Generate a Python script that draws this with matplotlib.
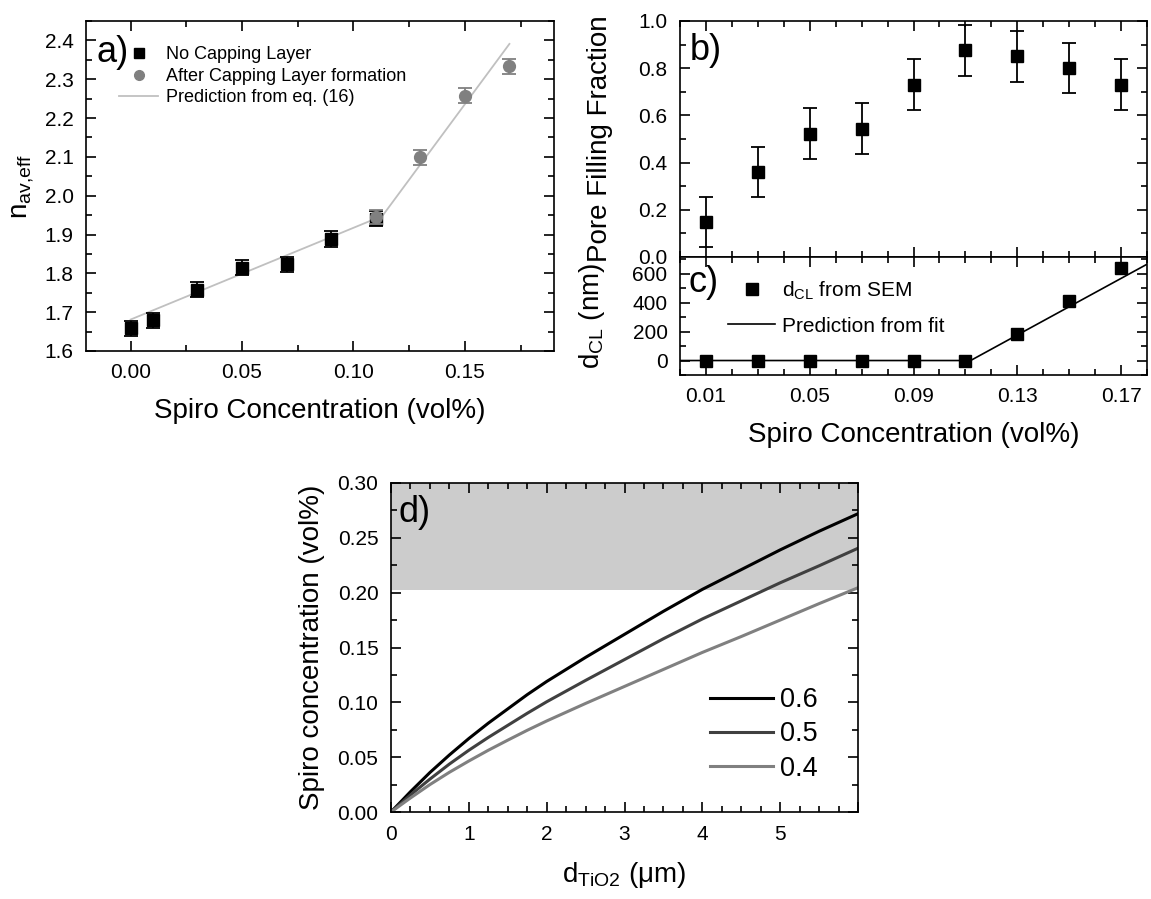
import numpy as np
import matplotlib.pyplot as plt
from matplotlib.lines import Line2D
from matplotlib.ticker import MultipleLocator

plt.rcParams['font.family'] = ['Liberation Sans', 'DejaVu Sans']
plt.rcParams['mathtext.default'] = 'regular'
plt.rcParams['axes.linewidth'] = 1.2

# panel a: effective refractive index
conc_nocap = [0.00, 0.01, 0.03, 0.05, 0.07, 0.09, 0.11]
n_nocap = [1.658, 1.679, 1.758, 1.815, 1.823, 1.889, 1.941]
n_nocap_err = [0.02, 0.02, 0.02, 0.02, 0.02, 0.02, 0.02]
conc_cap = [0.11, 0.13, 0.15, 0.17]
n_cap = [1.945, 2.099, 2.258, 2.333]
n_cap_err = [0.018, 0.02, 0.02, 0.02]
pred_conc = [0.0, 0.113, 0.17]
pred_n = [1.681, 1.948, 2.391]

# panel b / c: pore filling and capping layer thickness
conc_bc = [0.01, 0.03, 0.05, 0.07, 0.09, 0.11, 0.13, 0.15, 0.17]
pore_fill = [0.148, 0.36, 0.523, 0.544, 0.73, 0.876, 0.85, 0.80, 0.73]
pore_err = [0.107, 0.107, 0.107, 0.107, 0.107, 0.108, 0.108, 0.107, 0.107]
d_cl = [0, 0, 0, 0, 0, 0, 180, 410, 640]
fit_conc = [0.0, 0.112, 0.18]
fit_dcl = [0, 0, 665]

# panel d: required spiro concentration vs TiO2 thickness
d_tio2 = [0, 0.25, 0.5, 0.75, 1, 1.25, 1.5, 1.75, 2, 2.5, 3, 3.5, 4, 4.5, 5, 5.5, 6]
spiro_06 = [0, 0.0185, 0.036, 0.052, 0.067, 0.081, 0.094, 0.107, 0.119,
            0.141, 0.162, 0.183, 0.203, 0.221, 0.239, 0.256, 0.272]
spiro_05 = [0, 0.0155, 0.030, 0.0437, 0.0563, 0.068, 0.079, 0.090, 0.1005,
            0.120, 0.139, 0.158, 0.176, 0.1925, 0.209, 0.2245, 0.2405]
spiro_04 = [0, 0.0128, 0.025, 0.0362, 0.0465, 0.0563, 0.0655, 0.0745, 0.083,
            0.099, 0.1145, 0.130, 0.1455, 0.160, 0.175, 0.190, 0.2045]
band = [0.202, 0.30]

W, H = 1151, 899


def px_axes(fig, left, right, top, bottom):
    return fig.add_axes([left / W, 1 - bottom / H, (right - left) / W, (bottom - top) / H])


def style(ax, xmaj, xmin, ymaj, ymin):
    ax.xaxis.set_major_locator(MultipleLocator(xmaj))
    ax.xaxis.set_minor_locator(MultipleLocator(xmin))
    ax.yaxis.set_major_locator(MultipleLocator(ymaj))
    ax.yaxis.set_minor_locator(MultipleLocator(ymin))
    ax.tick_params(which='both', direction='in', top=True, right=True, width=1.2, labelsize=15)
    ax.tick_params(which='major', length=7.5, pad=9)
    ax.tick_params(which='minor', length=4)


fig = plt.figure(figsize=(W / 100, H / 100), dpi=100)

# ---- a)
ax_a = px_axes(fig, 86, 554, 21, 351)
ax_a.plot(pred_conc, pred_n, color='#c0c0c0', lw=1.3, zorder=1)
ax_a.errorbar(conc_nocap, n_nocap, yerr=n_nocap_err, fmt='s', color='k', ms=8,
              capsize=5, elinewidth=1.3, capthick=1.3, zorder=2)
ax_a.errorbar(conc_cap, n_cap, yerr=n_cap_err, fmt='o', color='#808080', ms=8.5,
              capsize=5, elinewidth=1.3, capthick=1.3, zorder=3)
ax_a.set_xlim(-0.02, 0.19)
ax_a.set_ylim(1.6, 2.45)
style(ax_a, 0.05, 0.025, 0.1, 0.05)
ax_a.xaxis.set_major_formatter(lambda v, p: f'{v:.2f}')
ax_a.yaxis.set_major_formatter(lambda v, p: f'{v:.1f}')
ax_a.set_xlabel('Spiro Concentration (vol%)', fontsize=20, labelpad=11)
ax_a.set_ylabel('n$_{av{,}eff}$', fontsize=20, labelpad=6)
ax_a.text(0.022, 0.905, 'a)', transform=ax_a.transAxes, fontsize=26, va='center')
h_a = [Line2D([], [], marker='s', ls='none', color='k', ms=6.5),
       Line2D([], [], marker='o', ls='none', color='#808080', ms=7),
       Line2D([], [], color='#c0c0c0', lw=1.3)]
ax_a.legend(h_a, ['No Capping Layer', 'After Capping Layer formation', 'Prediction from eq. (16)'],
            loc='upper left', bbox_to_anchor=(0.0705, 0.923), frameon=False, fontsize=13,
            handlelength=2.17, handletextpad=0.44, labelspacing=0.25, borderpad=0, borderaxespad=0)

# ---- b)
ax_b = px_axes(fig, 680, 1147, 21, 257)
ax_b.errorbar(conc_bc, pore_fill, yerr=pore_err, fmt='s', color='k', ms=9,
              capsize=5, elinewidth=1.3, capthick=1.3)
ax_b.set_xlim(0, 0.18)
ax_b.set_ylim(0, 1.0)
style(ax_b, 0.04, 0.01, 0.2, 0.1)
ax_b.set_xticks([0.01, 0.05, 0.09, 0.13, 0.17])
ax_b.tick_params(labelbottom=False)
ax_b.yaxis.set_major_formatter(lambda v, p: f'{v:.1f}')
ax_b.set_ylabel('Pore Filling Fraction', fontsize=20, labelpad=18)
ax_b.text(0.021, 0.876, 'b)', transform=ax_b.transAxes, fontsize=26, va='center')

# ---- c)
ax_c = px_axes(fig, 680, 1147, 257, 375)
ax_c.plot(fit_conc, fit_dcl, color='k', lw=1.2, zorder=1)
ax_c.plot(conc_bc, d_cl, 's', color='k', ms=8.5, zorder=2)
ax_c.set_xlim(0, 0.18)
ax_c.set_ylim(-100, 715)
style(ax_c, 0.04, 0.01, 200, 100)
ax_c.set_xticks([0.01, 0.05, 0.09, 0.13, 0.17])
ax_c.xaxis.set_major_formatter(lambda v, p: f'{v:.2f}')
ax_c.set_xlabel('Spiro Concentration (vol%)', fontsize=20, labelpad=11)
ax_c.set_ylabel('d$_{CL}$ (nm)', fontsize=20, labelpad=18)
ax_c.text(0.019, 0.78, 'c)', transform=ax_c.transAxes, fontsize=26, va='center')
h_c = [Line2D([], [], marker='s', ls='none', color='k', ms=8.5),
       Line2D([], [], color='k', lw=1.2)]
ax_c.legend(h_c, ['d$_{CL}$ from SEM', 'Prediction from fit'], loc='upper left',
            bbox_to_anchor=(0.103, 0.808), frameon=False, fontsize=15, handlelength=2.26,
            handletextpad=0.32, labelspacing=0.7, borderpad=0, borderaxespad=0)
fig.align_ylabels([ax_b, ax_c])

# ---- d)
ax_d = px_axes(fig, 391, 858, 483, 812)
ax_d.axhspan(band[0], band[1], color='#cccccc', lw=0, zorder=0)
ax_d.plot(d_tio2, spiro_06, color='#000000', lw=2.2, label='0.6')
ax_d.plot(d_tio2, spiro_05, color='#404040', lw=2.2, label='0.5')
ax_d.plot(d_tio2, spiro_04, color='#808080', lw=2.2, label='0.4')
ax_d.set_xlim(0, 6)
ax_d.set_ylim(0, 0.30)
style(ax_d, 1, 0.25, 0.05, 0.025)
ax_d.xaxis.set_major_formatter(lambda v, p: '' if v > 5.5 else f'{v:.0f}')
ax_d.yaxis.set_major_formatter(lambda v, p: f'{v:.2f}')
ax_d.set_xlabel('d$_{TiO2}$ (\u03bcm)', fontsize=20, labelpad=12)
ax_d.set_ylabel('Spiro concentration (vol%)', fontsize=20, labelpad=9)
ax_d.text(0.015, 0.91, 'd)', transform=ax_d.transAxes, fontsize=26, va='center')
ax_d.legend(loc='upper left', bbox_to_anchor=(0.683, 0.38), frameon=False, fontsize=19.5,
            handlelength=2.33, handletextpad=0.26, labelspacing=0.31, borderpad=0, borderaxespad=0)

fig.savefig('out.png', dpi=100)
